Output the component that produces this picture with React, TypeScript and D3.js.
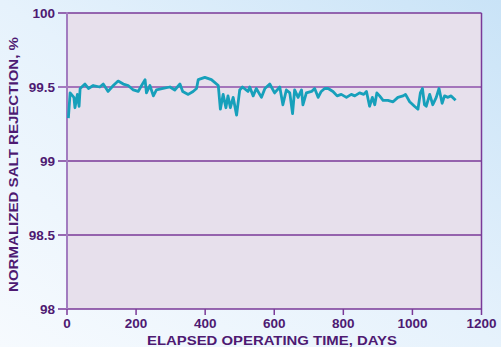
import React from "react";
import * as d3 from "d3";

const days = [4, 9, 20, 23, 30, 35, 38, 52, 62, 76, 95, 105, 119, 134, 148, 163, 177, 192, 206, 216, 226, 230, 240, 250, 259, 278, 298, 312, 327, 335, 351, 365, 375, 380, 399, 418, 438, 444, 452, 460, 466, 473, 481, 491, 500, 508, 524, 529, 539, 548, 563, 573, 587, 601, 616, 625, 635, 645, 653, 659, 669, 679, 683, 693, 708, 717, 727, 736, 746, 756, 770, 782, 794, 809, 823, 833, 847, 859, 867, 876, 884, 891, 897, 905, 915, 929, 944, 958, 973, 980, 992, 1006, 1016, 1023, 1029, 1035, 1040, 1050, 1059, 1069, 1077, 1086, 1093, 1103, 1112, 1125];
const rejection = [99.29, 99.46, 99.43, 99.36, 99.45, 99.37, 99.49, 99.52, 99.49, 99.51, 99.5, 99.52, 99.47, 99.51, 99.54, 99.52, 99.51, 99.48, 99.47, 99.51, 99.55, 99.46, 99.51, 99.44, 99.48, 99.49, 99.5, 99.48, 99.52, 99.47, 99.45, 99.47, 99.49, 99.55, 99.565, 99.55, 99.51, 99.35, 99.45, 99.36, 99.44, 99.36, 99.43, 99.31, 99.48, 99.5, 99.47, 99.5, 99.44, 99.49, 99.43, 99.49, 99.52, 99.46, 99.5, 99.38, 99.48, 99.46, 99.32, 99.48, 99.43, 99.48, 99.38, 99.46, 99.47, 99.49, 99.43, 99.47, 99.49, 99.49, 99.47, 99.44, 99.45, 99.43, 99.45, 99.44, 99.46, 99.45, 99.47, 99.37, 99.43, 99.38, 99.46, 99.44, 99.41, 99.41, 99.4, 99.43, 99.44, 99.45, 99.4, 99.37, 99.35, 99.46, 99.49, 99.38, 99.37, 99.45, 99.38, 99.43, 99.49, 99.39, 99.44, 99.43, 99.44, 99.41];

const xTicks = [0, 200, 400, 600, 800, 1000, 1200];
const yTicks = [98, 98.5, 99, 99.5, 100];
const yTickLabels = ["98", "98.5", "99", "99.5", "100"];
const xTitle = "ELAPSED OPERATING TIME, DAYS";
const yTitle = "NORMALIZED SALT REJECTION, %";

const W = 501;
const H = 347;
const TEXT = "#4e1a72";
const GRID = "#7a3a98";
const FONT = "'Liberation Sans', Arial, sans-serif";

export default function App() {
  const x = d3.scaleLinear().domain([0, 1200]).range([67, 481.5]);
  const y = d3.scaleLinear().domain([98, 100]).range([309, 13]);
  const pts = days.map((d, i) => [d, rejection[i]] as [number, number]);
  const line = d3
    .line<[number, number]>()
    .x((d) => x(d[0]))
    .y((d) => y(d[1]));

  return (
    <svg
      width={W}
      height={H}
      style={{ position: "absolute", left: 0, top: 0, display: "block" }}
    >
      <defs>
        <linearGradient id="bg" x1="1" y1="0" x2="0" y2="1">
          <stop offset="0" stopColor="#c9e3f7" />
          <stop offset="0.5" stopColor="#e6f2fc" />
          <stop offset="1" stopColor="#f6fafe" />
        </linearGradient>
      </defs>
      <rect x={0} y={0} width={W} height={H} fill="url(#bg)" />
      <rect
        x={x(0)}
        y={y(100)}
        width={x(1200) - x(0)}
        height={y(98) - y(100)}
        fill="#e7e0ec"
      />
      {yTicks.map((t) => (
        <line
          key={"g" + t}
          x1={58}
          x2={x(1200)}
          y1={y(t)}
          y2={y(t)}
          stroke={t === 99.5 ? "#8e52ab" : GRID}
          strokeWidth={1.5}
        />
      ))}
      <line x1={x(1200)} x2={x(1200)} y1={y(100)} y2={y(98)} stroke={GRID} strokeWidth={1.5} />
      <line x1={x(0)} x2={x(0)} y1={y(100) - 1} y2={y(98) + 1} stroke="#a27cc0" strokeWidth={2} />
      {xTicks.map((t) => (
        <line
          key={"xt" + t}
          x1={x(t)}
          x2={x(t)}
          y1={y(98)}
          y2={y(98) + 6}
          stroke={GRID}
          strokeWidth={1.5}
        />
      ))}
      {xTicks.map((t) => (
        <text
          key={"xl" + t}
          x={x(t)}
          y={328}
          textAnchor="middle"
          fontFamily={FONT}
          fontWeight="bold"
          fontSize={13.5}
          fill={TEXT}
        >
          {t}
        </text>
      ))}
      {yTicks.map((t, i) => (
        <text
          key={"yl" + t}
          x={55}
          y={y(t) + 4.5}
          textAnchor="end"
          fontFamily={FONT}
          fontWeight="bold"
          fontSize={13.5}
          fill={TEXT}
        >
          {yTickLabels[i]}
        </text>
      ))}
      <text
        x={272}
        y={344.5}
        textAnchor="middle"
        fontFamily={FONT}
        fontWeight="bold"
        fontSize={12.5}
        fill={TEXT}
        textLength={250}
        lengthAdjust="spacingAndGlyphs"
      >
        {xTitle}
      </text>
      <text
        transform={`translate(18,${(37 + 292) / 2}) rotate(-90)`}
        textAnchor="middle"
        fontFamily={FONT}
        fontWeight="bold"
        fontSize={12.5}
        fill={TEXT}
        textLength={255}
        lengthAdjust="spacingAndGlyphs"
      >
        {yTitle}
      </text>
      <path
        d={line(pts) || ""}
        fill="none"
        stroke="#17a0bb"
        strokeWidth={2.8}
        strokeLinejoin="round"
      />
    </svg>
  );
}
